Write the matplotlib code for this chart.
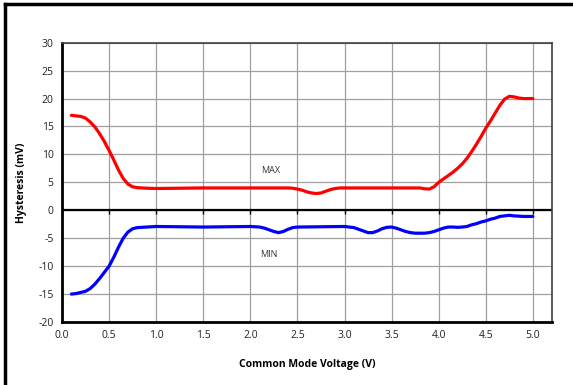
import matplotlib
matplotlib.use("Agg")
import matplotlib.pyplot as plt
from matplotlib.lines import Line2D

# Data
x_max = [0.1, 0.15, 0.2, 0.25, 0.3, 0.35, 0.4, 0.45, 0.5, 0.55, 0.6, 0.65, 0.7, 0.75, 0.8, 0.9, 1.0, 1.5, 2.0,
         2.4, 2.45, 2.5, 2.55, 2.6, 2.65, 2.7, 2.75, 2.8, 2.85, 2.9, 2.95, 3.0, 3.5, 3.8, 3.85, 3.9, 3.95,
         4.0, 4.05, 4.1, 4.15, 4.2, 4.25, 4.3, 4.35, 4.4, 4.45, 4.5, 4.55, 4.6, 4.65, 4.7, 4.75, 4.8, 4.85,
         4.9, 5.0]
y_max = [17.0, 16.9, 16.8, 16.5, 15.8, 14.9, 13.7, 12.3, 10.7, 9.0, 7.2, 5.7, 4.7, 4.2, 4.05, 3.95, 3.9, 4.0, 4.0,
         4.0, 3.95, 3.8, 3.6, 3.3, 3.1, 3.0, 3.1, 3.4, 3.7, 3.9, 4.0, 4.0, 4.0, 4.0, 3.85, 3.8, 4.2,
         5.0, 5.6, 6.2, 6.8, 7.5, 8.3, 9.3, 10.5, 11.8, 13.2, 14.7, 16.0, 17.4, 18.8, 19.9, 20.4, 20.3, 20.1,
         20.0, 20.0]

x_min = [0.1, 0.15, 0.2, 0.25, 0.3, 0.35, 0.4, 0.45, 0.5, 0.55, 0.6, 0.65, 0.7, 0.75, 0.8, 0.9, 1.0, 1.5, 2.0,
         2.1, 2.15, 2.2, 2.25, 2.3, 2.35, 2.4, 2.45, 2.5, 3.0, 3.05, 3.1, 3.15, 3.2, 3.25, 3.3, 3.35, 3.4,
         3.45, 3.5, 3.55, 3.6, 3.65, 3.7, 3.75, 3.8, 3.85, 3.9, 3.95, 4.0, 4.05, 4.1, 4.15, 4.2, 4.25, 4.3,
         4.35, 4.4, 4.45, 4.5, 4.55, 4.6, 4.65, 4.7, 4.75, 4.8, 4.9, 5.0]
y_min = [-15.0, -14.9, -14.7, -14.5, -14.0, -13.2, -12.2, -11.1, -10.0, -8.4, -6.6, -5.0, -3.9, -3.3, -3.1, -3.0,
         -2.9, -3.0, -2.9, -3.0, -3.2, -3.5, -3.8, -4.0, -3.8, -3.4, -3.1, -3.0, -2.9, -3.0, -3.1, -3.4, -3.7,
         -4.0, -4.0, -3.7, -3.3, -3.05, -3.0, -3.2, -3.5, -3.8, -4.0, -4.1, -4.1, -4.1, -4.0, -3.8, -3.5,
         -3.2, -3.0, -3.0, -3.05, -3.0, -2.9, -2.6, -2.4, -2.1, -1.9, -1.6, -1.4, -1.1, -1.0, -0.9, -1.0,
         -1.1, -1.1]

x_ticks = [0.0, 0.5, 1.0, 1.5, 2.0, 2.5, 3.0, 3.5, 4.0, 4.5, 5.0]
y_ticks = [-20, -15, -10, -5, 0, 5, 10, 15, 20, 25, 30]

label_max = "MAX"
label_min = "MIN"

plt.rcParams['font.family'] = ['Open Sans', 'DejaVu Sans']

fig = plt.figure(figsize=(5.73, 3.85), dpi=100)
ax = fig.add_axes([0.1082, 0.1636, 0.8546, 0.7255])

ax.set_xlim(0, 5.2)
ax.set_ylim(-20, 30)
ax.set_xticks(x_ticks)
ax.set_xticklabels([f"{v:.1f}" for v in x_ticks])
ax.set_yticks(y_ticks)
ax.set_yticklabels([str(v) for v in y_ticks])
ax.tick_params(axis='both', length=0, labelsize=7.5, colors='#222222', pad=6)

ax.grid(True, color='#a0a0a0', linewidth=0.9)
ax.set_axisbelow(True)

for s in ['top', 'right']:
    ax.spines[s].set_color('#404040')
    ax.spines[s].set_linewidth(1.2)
for s in ['left', 'bottom']:
    ax.spines[s].set_color('black')
    ax.spines[s].set_linewidth(2.0)

# zero line with tick marks
ax.axhline(0, color='black', linewidth=1.6, zorder=2)
ax.plot(x_ticks, [0] * len(x_ticks), linestyle='none', marker=3, markersize=3,
        color='black', markeredgewidth=1.0, zorder=2)

ax.plot(x_max, y_max, color='#ff0000', linewidth=2.3, solid_joinstyle='round',
        solid_capstyle='round', zorder=3)
ax.plot(x_min, y_min, color='#0000ff', linewidth=2.3, solid_joinstyle='round',
        solid_capstyle='round', zorder=3)

ax.text(2.22, 7.2, label_max, fontsize=6.5, color='#333333', ha='center', va='center')
ax.text(2.2, -7.9, label_min, fontsize=6.5, color='#333333', ha='center', va='center')

ax.set_xlabel("Common Mode Voltage (V)", fontsize=7.5, fontweight='bold', labelpad=13)
ax.set_ylabel("Hysteresis (mV)", fontsize=7.5, fontweight='bold', labelpad=8)

# outer frame (left and top edges visible)
fig.add_artist(Line2D([5 / 573, 5 / 573], [0, 1 - 4 / 385], transform=fig.transFigure,
                      color='black', linewidth=2.5))
fig.add_artist(Line2D([5 / 573, 1], [1 - 4 / 385, 1 - 4 / 385], transform=fig.transFigure,
                      color='black', linewidth=2.5))

fig.savefig("out.png", dpi=100)
